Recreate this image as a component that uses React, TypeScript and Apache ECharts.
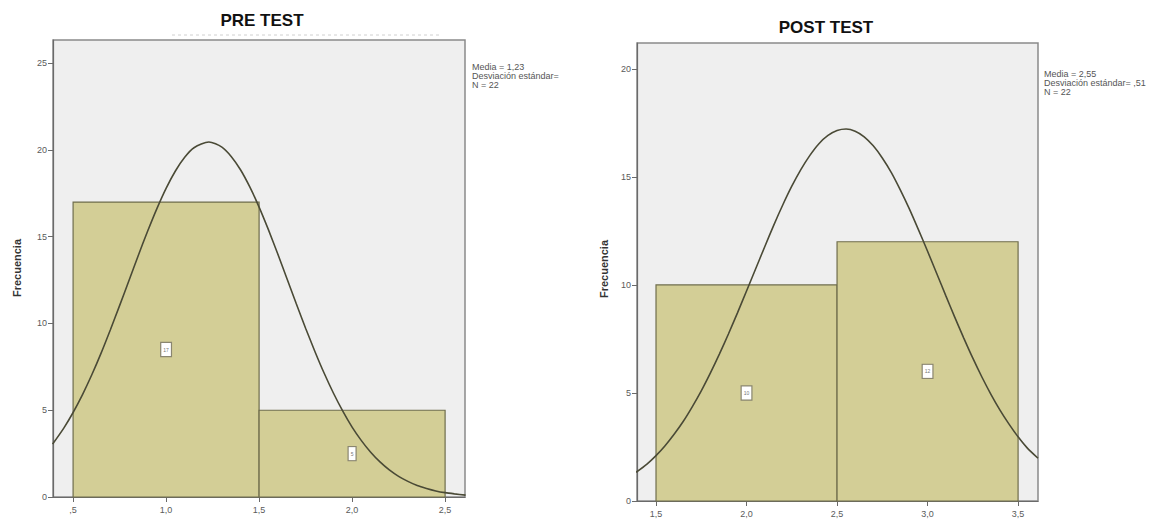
import React, { useEffect, useRef } from "react";
import * as echarts from "echarts";

// ---- data ----
const preEdges = [0.5, 1.5, 2.5];
const preCounts = [17, 5];
const postEdges = [1.5, 2.5, 3.5];
const postCounts = [10, 12];

const preCurveX = [0.39, 0.45, 0.5, 0.55, 0.6, 0.65, 0.7, 0.75, 0.8, 0.85, 0.9, 0.95, 1.0, 1.05, 1.1, 1.15, 1.23, 1.3, 1.35, 1.4, 1.45, 1.5, 1.55, 1.6, 1.65, 1.7, 1.75, 1.8, 1.85, 1.9, 1.95, 2.0, 2.05, 2.1, 2.15, 2.2, 2.25, 2.3, 2.35, 2.4, 2.45, 2.5, 2.55, 2.61];
const preCurveY = [3.05, 3.97, 4.87, 5.89, 7.03, 8.28, 9.63, 11.03, 12.46, 13.91, 15.3, 16.61, 17.79, 18.79, 19.58, 20.13, 20.46, 20.17, 19.63, 18.86, 17.87, 16.71, 15.41, 14.02, 12.58, 11.14, 9.73, 8.39, 7.13, 5.98, 4.95, 4.03, 3.25, 2.58, 2.02, 1.56, 1.19, 0.9, 0.66, 0.49, 0.35, 0.25, 0.18, 0.11];

const postCurveX = [1.39, 1.45, 1.5, 1.55, 1.6, 1.65, 1.7, 1.75, 1.8, 1.85, 1.9, 1.95, 2.0, 2.05, 2.1, 2.15, 2.2, 2.25, 2.3, 2.35, 2.4, 2.45, 2.5, 2.55, 2.6, 2.65, 2.7, 2.75, 2.8, 2.85, 2.9, 2.95, 3.0, 3.05, 3.1, 3.15, 3.2, 3.25, 3.3, 3.35, 3.4, 3.45, 3.5, 3.55, 3.61];
const postCurveY = [1.33, 1.71, 2.1, 2.56, 3.09, 3.68, 4.36, 5.1, 5.92, 6.8, 7.73, 8.71, 9.72, 10.74, 11.76, 12.76, 13.7, 14.57, 15.34, 16.0, 16.54, 16.92, 17.15, 17.22, 17.12, 16.86, 16.44, 15.88, 15.2, 14.39, 13.51, 12.55, 11.56, 10.54, 9.52, 8.51, 7.54, 6.61, 5.74, 4.94, 4.21, 3.56, 2.97, 2.46, 1.98];

const preXTicks = [0.5, 1.0, 1.5, 2.0, 2.5];
const preXLabels = [",5", "1,0", "1,5", "2,0", "2,5"];
const postXTicks = [1.5, 2.0, 2.5, 3.0, 3.5];
const postXLabels = ["1,5", "2,0", "2,5", "3,0", "3,5"];
const preYTicks = [0, 5, 10, 15, 20, 25];
const postYTicks = [0, 5, 10, 15, 20];

const preTitle = "PRE TEST";
const postTitle = "POST TEST";
const preStats = ["Media = 1,23", "Desviación estándar=", "N = 22"];
const postStats = ["Media = 2,55", "Desviación estándar= ,51", "N = 22"];
const yName = "Frecuencia";

const BAR_FILL = "#d3ce96";
const BAR_STROKE = "#6f6d4c";
const CURVE = "#4a4a36";
const AXIS = "#6a6a6a";
const LABEL = "#5a5a5a";
const SMALL_FONT = "Liberation Sans Narrow, Liberation Sans, sans-serif";

function xAxisFor(grid: number, min: number, max: number, ticks: number[], labels: string[]) {
  return {
    type: "value",
    gridIndex: grid,
    min,
    max,
    axisLine: { show: true, onZero: false, lineStyle: { color: AXIS, width: 1.2 } },
    axisTick: { show: true, customValues: ticks, length: 5, lineStyle: { color: AXIS } },
    axisLabel: {
      show: true,
      customValues: ticks,
      formatter: (v: number) => {
        const i = ticks.findIndex((t) => Math.abs(t - v) < 1e-6);
        return i >= 0 ? labels[i] : "";
      },
      color: LABEL,
      fontSize: 9,
      fontFamily: SMALL_FONT,
      margin: 8,
    },
    splitLine: { show: false },
  };
}

function yAxisFor(grid: number, max: number, ticks: number[]) {
  return {
    type: "value",
    gridIndex: grid,
    min: 0,
    max,
    axisLine: { show: true, lineStyle: { color: AXIS, width: 1.2 } },
    axisTick: { show: true, customValues: ticks, length: 5, lineStyle: { color: AXIS } },
    axisLabel: {
      show: true,
      customValues: ticks,
      formatter: (v: number) => String(v),
      color: LABEL,
      fontSize: 9,
      fontFamily: SMALL_FONT,
      margin: 6,
    },
    splitLine: { show: false },
  };
}

function histData(edges: number[], counts: number[]) {
  return counts.map((c, i) => [edges[i], edges[i + 1], c]);
}

function renderBar(params: any, api: any) {
  const x0 = api.value(0);
  const x1 = api.value(1);
  const h = api.value(2);
  const p0 = api.coord([x0, h]);
  const p1 = api.coord([x1, 0]);
  const cx = (p0[0] + p1[0]) / 2;
  const cy = (p0[1] + p1[1]) / 2;
  return {
    type: "group",
    children: [
      {
        type: "rect",
        shape: { x: p0[0], y: p0[1], width: p1[0] - p0[0], height: p1[1] - p0[1] },
        style: { fill: BAR_FILL, stroke: BAR_STROKE, lineWidth: 1.2 },
      },
      {
        type: "text",
        x: cx,
        y: cy,
        style: {
          text: String(h),
          fontSize: 5,
          fill: "#777",
          align: "center",
          verticalAlign: "middle",
          backgroundColor: "#ffffff",
          borderColor: "#8a8670",
          borderWidth: 1.2,
          padding: [4, 2],
        },
      },
    ],
  };
}

export default function App() {
  const ref = useRef<HTMLDivElement>(null);
  useEffect(() => {
    if (!ref.current) return;
    const chart = echarts.init(ref.current, undefined, { renderer: "svg" });
    const statStyle = {
      fontSize: 9,
      lineHeight: 9,
      fill: "#555",
      fontFamily: SMALL_FONT,
    };
    const curveSeries = (axis: number, xs: number[], ys: number[]) => ({
      type: "line",
      xAxisIndex: axis,
      yAxisIndex: axis,
      data: xs.map((x, i) => [x, ys[i]]),
      smooth: 0.25,
      showSymbol: false,
      lineStyle: { color: CURVE, width: 1.6 },
      z: 3,
    });
    const option: any = {
      animation: false,
      backgroundColor: "#ffffff",
      grid: [
        { left: 53, top: 40, width: 412, height: 457, show: true, backgroundColor: "#efefef", borderColor: "#8a8a8a", borderWidth: 1.5 },
        { left: 637, top: 43, width: 401, height: 458, show: true, backgroundColor: "#efefef", borderColor: "#8a8a8a", borderWidth: 1.5 },
      ],
      xAxis: [
        xAxisFor(0, 0.392, 2.607, preXTicks, preXLabels),
        xAxisFor(1, 1.395, 3.61, postXTicks, postXLabels),
      ],
      yAxis: [yAxisFor(0, 26.34, preYTicks), yAxisFor(1, 21.2, postYTicks)],
      series: [
        {
          type: "custom",
          xAxisIndex: 0,
          yAxisIndex: 0,
          renderItem: renderBar,
          data: histData(preEdges, preCounts),
          z: 2,
        },
        {
          type: "custom",
          xAxisIndex: 1,
          yAxisIndex: 1,
          renderItem: renderBar,
          data: histData(postEdges, postCounts),
          z: 2,
        },
        curveSeries(0, preCurveX, preCurveY),
        curveSeries(1, postCurveX, postCurveY),
      ],
      graphic: [
        {
          type: "text",
          x: 262,
          y: 20,
          style: { text: preTitle, fontSize: 17, fontWeight: "bold", fill: "#111", align: "center", verticalAlign: "middle", fontFamily: "Liberation Sans, Arial, sans-serif" },
        },
        {
          type: "text",
          x: 826,
          y: 27,
          style: { text: postTitle, fontSize: 17, fontWeight: "bold", fill: "#111", align: "center", verticalAlign: "middle", fontFamily: "Liberation Sans, Arial, sans-serif" },
        },
        {
          type: "line",
          shape: { x1: 172, y1: 35, x2: 440, y2: 35 },
          style: { stroke: "#d0d0d0", lineWidth: 1, lineDash: [3, 3] },
        },
        {
          type: "text",
          x: 17,
          y: 268,
          rotation: Math.PI / 2,
          style: { text: yName, fontSize: 11, fontWeight: "bold", fill: "#333", align: "center", verticalAlign: "middle", fontFamily: "Liberation Sans, Arial, sans-serif" },
        },
        {
          type: "text",
          x: 604,
          y: 269,
          rotation: Math.PI / 2,
          style: { text: yName, fontSize: 11, fontWeight: "bold", fill: "#333", align: "center", verticalAlign: "middle", fontFamily: "Liberation Sans, Arial, sans-serif" },
        },
        {
          type: "text",
          x: 472,
          y: 62,
          style: { ...statStyle, text: preStats.join("\n") },
        },
        {
          type: "text",
          x: 1044,
          y: 69,
          style: { ...statStyle, text: postStats.join("\n") },
        },
      ],
    };
    chart.setOption(option);
    return () => chart.dispose();
  }, []);
  return (
    <div
      ref={ref}
      style={{ position: "absolute", left: 0, top: 0, width: 1169, height: 524 }}
    />
  );
}
